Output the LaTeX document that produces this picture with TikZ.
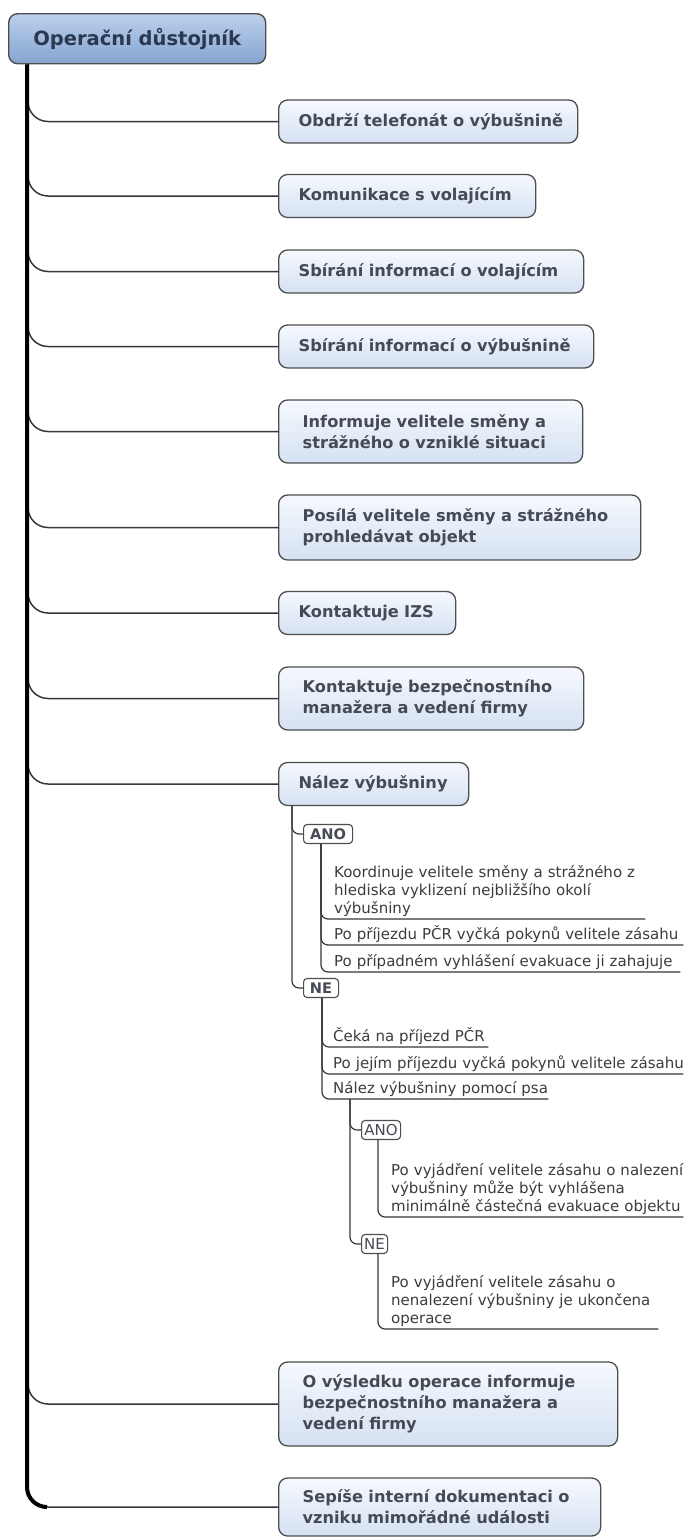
\documentclass[tikz,border=0pt]{standalone}
\usepackage{fontspec}
\setmainfont{DejaVu Sans}
\usetikzlibrary{calc}
\definecolor{lonetop}{HTML}{F6F9FE}
\definecolor{lonebot}{HTML}{D5E1F2}
\definecolor{roottop}{HTML}{BCD0EC}
\definecolor{rootbot}{HTML}{84A4D0}
\definecolor{boxline}{HTML}{4E4E4E}
\definecolor{lonetext}{HTML}{454A55}
\definecolor{roottext}{HTML}{2A3850}
\definecolor{leaftext}{HTML}{3C3C3C}
\definecolor{conn}{HTML}{383838}
\newcommand{\ulstrut}{\rule[-5pt]{0pt}{5pt}}
\begin{document}
\begin{tikzpicture}[x=1pt,y=-1pt,
 rootbox/.style={draw=boxline, line width=1.4pt, rounded corners=9pt, top color=roottop, bottom color=rootbot,
   font=\fontsize{19.5}{23}\selectfont\bfseries, text=roottext, minimum width=257pt, minimum height=50pt, inner sep=0pt},
 lonebox/.style={draw=boxline, line width=1.3pt, rounded corners=9pt, top color=lonetop, bottom color=lonebot,
   font=\fontsize{16.2}{21}\selectfont\bfseries, text=lonetext, align=left, anchor=west, inner ysep=0pt},
 sbox/.style={lonebox, inner xsep=20pt, minimum height=43pt},
 mbox/.style={lonebox, inner xsep=24pt},
 tagbox/.style={draw=boxline, line width=1.1pt, rounded corners=3.5pt, fill=white, text=lonetext, anchor=west,
   inner xsep=0pt, inner ysep=0pt, minimum height=19pt},
 tagbold/.style={tagbox, font=\fontsize{14.6}{17}\selectfont\bfseries},
 tagreg/.style={tagbox, font=\fontsize{15}{17}\selectfont},
 leaf/.style={anchor=south west, inner sep=0pt, align=left, text=leaftext, font=\fontsize{15}{18}\selectfont},
 trunk/.style={line width=4pt, black, rounded corners=20pt},
 branch/.style={draw=conn, line width=1.5pt, rounded corners=20pt},
 sub/.style={draw=conn, line width=1.2pt, rounded corners=7pt},
]
\useasboundingbox[fill=white] (0,0) rectangle (683,1537);

\node[rootbox, anchor=north west] (root) at (8,13) {Operační důstojník};

\node[sbox, text width=259pt] (b1) at (278,121.5) {\mbox{Obdrží telefonát o výbušnině}};
\node[sbox, text width=217pt] (b2) at (278,196) {\mbox{Komunikace s volajícím}};
\node[sbox, text width=265pt] (b3) at (278,271.5) {\mbox{Sbírání informací o volajícím}};
\node[sbox, text width=275pt] (b4) at (278,346.5) {\mbox{Sbírání informací o výbušnině}};
\node[mbox, text width=256pt, minimum height=63pt] (b5) at (278,431.5) {\mbox{Informuje velitele směny a}\\\mbox{strážného o vzniklé situaci}};
\node[mbox, text width=314pt, minimum height=65pt] (b6) at (278,527.5) {\mbox{Posílá velitele směny a strážného}\\\mbox{prohledávat objekt}};
\node[sbox, text width=137pt] (b7) at (278,613) {\mbox{Kontaktuje IZS}};
\node[mbox, text width=257pt, minimum height=63pt] (b8) at (278,698.5) {\mbox{Kontaktuje bezpečnostního}\\\mbox{manažera a vedení firmy}};
\node[sbox, text width=150pt] (b9) at (278,784) {\mbox{Nález výbušniny}};
\node[mbox, text width=291pt, minimum height=84pt] (b10) at (278,1404) {\mbox{O výsledku operace informuje}\\\mbox{bezpečnostního manažera a}\\\mbox{vedení firmy}};
\node[mbox, text width=274pt, minimum height=58pt] (b11) at (278,1507) {\mbox{Sepíše interní dokumentaci o}\\\mbox{vzniku mimořádné události}};

\node[tagbold, minimum width=49pt] (ano) at (303,834) {ANO};
\node[tagbold, minimum width=35pt] (ne) at (303,988) {NE};
\node[tagreg, minimum width=39pt] (anob) at (361,1130) {ANO};
\node[tagreg, minimum width=26pt] (neb) at (361,1244) {NE};

\node[leaf, text width=311pt] (k1) at (334,919) {\mbox{Koordinuje velitele směny a strážného z}\\\mbox{hlediska vyklizení nejbližšího okolí}\\\mbox{výbušniny}\ulstrut};
\node[leaf, text width=349pt] (k2) at (334,945) {\mbox{Po příjezdu PČR vyčká pokynů velitele zásahu}\ulstrut};
\node[leaf, text width=346pt] (k3) at (334,972) {\mbox{Po případném vyhlášení evakuace ji zahajuje}\ulstrut};
\node[leaf, text width=155pt] (n1) at (333,1047) {\mbox{Čeká na příjezd PČR}\ulstrut};
\node[leaf, text width=350pt] (n2) at (333,1074) {\mbox{Po jejím příjezdu vyčká pokynů velitele zásahu}\ulstrut};
\node[leaf, text width=215pt] (n3) at (333,1099) {\mbox{Nález výbušniny pomocí psa}\ulstrut};
\node[leaf, text width=292pt] (a1) at (391,1217) {\mbox{Po vyjádření velitele zásahu o nalezení}\\\mbox{výbušniny může být vyhlášena}\\\mbox{minimálně částečná evakuace objektu}\ulstrut};
\node[leaf, text width=267pt] (e1) at (391,1329) {\mbox{Po vyjádření velitele zásahu o}\\\mbox{nenalezení výbušniny je ukončena}\\\mbox{operace}\ulstrut};

% main branches
\foreach \b in {b1,b2,b3,b4,b5,b6,b7,b8,b9,b10,b11}
  \draw[branch] ($(root.south west)+(20,0)$) |- (\b.west);
% trunk, bending into the last branch
\draw[trunk] ($(root.south west)+(19,0)$) |- ($(root.south west |- b11.west)+(39,0)$);

% sub branches
\draw[sub] ($(b9.south west)+(14,0)$) |- (ano.west);
\draw[sub] ($(b9.south west)+(14,0)$) |- (ne.west);
\foreach \l in {k1,k2,k3}
  \draw[sub] ($(ano.south west)+(18,0)$) |- (\l.south east);
\foreach \l in {n1,n2,n3}
  \draw[sub] ($(ne.south west)+(19,0)$) |- (\l.south east);
\draw[sub] ($(n3.south west)+(17,0)$) |- (anob.west);
\draw[sub] ($(n3.south west)+(17,0)$) |- (neb.west);
\draw[sub] ($(anob.south west)+(17,0)$) |- (a1.south east);
\draw[sub] ($(neb.south west)+(17,0)$) |- (e1.south east);
\end{tikzpicture}
\end{document}
